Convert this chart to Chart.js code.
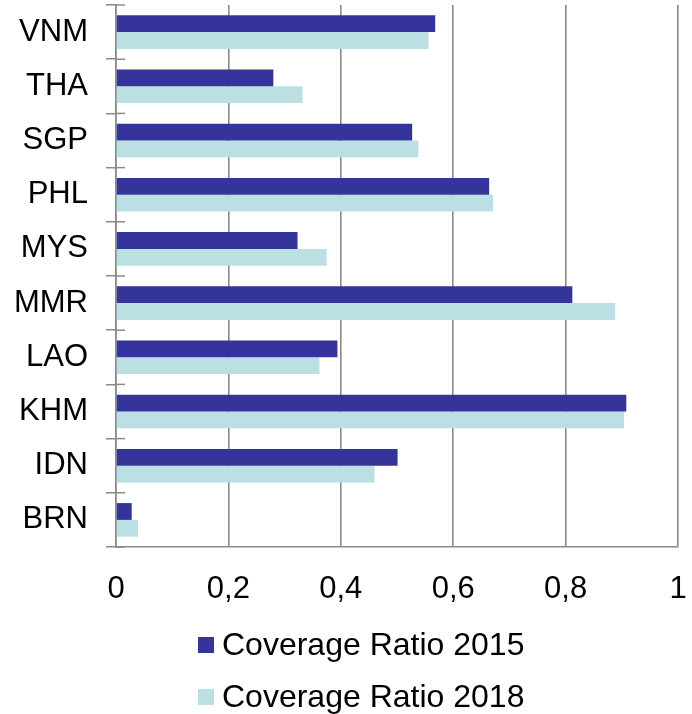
<!DOCTYPE html>
<html>
<head>
<meta charset="utf-8">
<script src="https://cdn.jsdelivr.net/npm/chart.js@4.4.1/dist/chart.umd.min.js"></script>
<style>
  html, body { margin: 0; padding: 0; background: #fff; }
  #wrap { width: 692px; height: 714px; position: relative; }
</style>
</head>
<body>
<div id="wrap"><canvas id="coverageChart"></canvas></div>
<script>
// coverage ratios per country, top row first
const countries = ['VNM', 'THA', 'SGP', 'PHL', 'MYS', 'MMR', 'LAO', 'KHM', 'IDN', 'BRN'];
const ratio2015 = [0.568, 0.280, 0.527, 0.664, 0.323, 0.812, 0.394, 0.908, 0.501, 0.028];
const ratio2018 = [0.556, 0.332, 0.538, 0.671, 0.375, 0.888, 0.362, 0.904, 0.460, 0.039];
const seriesNames = ['Coverage Ratio 2015', 'Coverage Ratio 2018'];
const xTicks = [0, 0.2, 0.4, 0.6, 0.8, 1];

const FONT = '"Liberation Sans", Arial, sans-serif';
const GRID = '#8a8a8a';
const DARK = '#35349a';
const LIGHT = '#bbe0e3';

// legend placement (two stacked rows under the axis)
const LEGEND_X = 198;
const LEGEND_Y = 645;
const LEGEND_ROW = 52;

const extras = {
  id: 'extras',
  afterDraw(chart) {
    const ctx = chart.ctx;
    const yScale = chart.scales.y;
    const area = chart.chartArea;
    ctx.save();
    // small stubs of the category ticks inside the plot
    ctx.strokeStyle = GRID;
    ctx.lineWidth = 1.5;
    const step = (yScale.bottom - yScale.top) / countries.length;
    for (let i = 0; i <= countries.length; i++) {
      const py = yScale.top + i * step;
      ctx.beginPath();
      ctx.moveTo(area.left, py);
      ctx.lineTo(area.left + 9, py);
      ctx.stroke();
    }
    // legend
    ctx.font = '32px ' + FONT;
    ctx.textBaseline = 'middle';
    chart.data.datasets.forEach((ds, i) => {
      const cy = LEGEND_Y + i * LEGEND_ROW;
      ctx.fillStyle = ds.backgroundColor;
      ctx.fillRect(LEGEND_X, cy - 8, 16, 16);
      ctx.fillStyle = '#000';
      ctx.fillText(ds.label, LEGEND_X + 24, cy + 1);
    });
    ctx.restore();
  }
};

new Chart(document.getElementById('coverageChart'), {
  type: 'bar',
  data: {
    labels: countries,
    datasets: [
      { label: seriesNames[0], data: ratio2015, backgroundColor: DARK },
      { label: seriesNames[1], data: ratio2018, backgroundColor: LIGHT }
    ]
  },
  options: {
    indexAxis: 'y',
    responsive: true,
    maintainAspectRatio: false,
    animation: false,
    categoryPercentage: 0.62,
    barPercentage: 1,
    layout: { padding: { top: 5, right: 14, bottom: 107, left: 0 } },
    plugins: {
      legend: { display: false },
      tooltip: { enabled: false }
    },
    scales: {
      x: {
        min: 0,
        max: 1,
        afterBuildTicks: (scale) => { scale.ticks = xTicks.map(v => ({ value: v })); },
        afterFit: (scale) => {
          scale.height = 60;
          scale.paddingLeft = 0;
          scale.paddingRight = 0;
        },
        grid: { color: GRID, lineWidth: 1.6, drawTicks: false },
        border: { color: GRID, width: 1.6 },
        ticks: {
          padding: 24,
          color: '#000',
          font: { family: FONT, size: 31 },
          callback: (v) => String(Math.round(v * 10) / 10).replace('.', ',')
        }
      },
      y: {
        afterFit: (scale) => {
          scale.width = 116;
          scale.paddingTop = 0;
          scale.paddingBottom = 0;
        },
        grid: { drawOnChartArea: false, drawTicks: true, tickLength: 10, color: GRID, lineWidth: 1.5 },
        border: { color: GRID, width: 1.6 },
        ticks: {
          padding: 18,
          color: '#000',
          font: { family: FONT, size: 31 }
        }
      }
    }
  },
  plugins: [extras]
});
</script>
</body>
</html>
